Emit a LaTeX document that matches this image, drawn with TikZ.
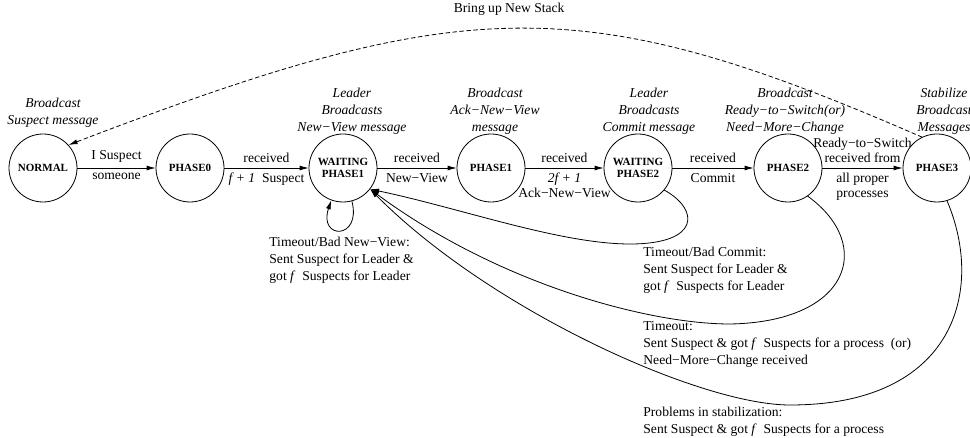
\documentclass[tikz,border=0pt]{standalone}
\usepackage{fontspec}
\setmainfont{Liberation Serif}
\usetikzlibrary{arrows.meta}

\begin{document}
\begin{tikzpicture}[x=1pt, y=-1pt, line cap=round, line join=round, line width=0.8pt,
  >={Latex[length=9pt,width=5pt]},
  state/.style={draw, circle, minimum size=68pt, inner sep=0pt, align=center,
    font=\fontsize{11}{12.5}\selectfont\bfseries},
  note/.style={align=center, inner sep=0pt, font=\fontsize{13.6}{17}\selectfont\itshape},
  cond/.style={align=left, inner sep=0pt, anchor=north west,
    font=\fontsize{13.6}{17}\selectfont},
  lbl/.style={align=center, inner sep=5pt, font=\fontsize{13.6}{15}\selectfont},
  arr/.style={->}]

\useasboundingbox (0,0) rectangle (970,438);

% 状态
\node[state] (normal) at (43,168) {NORMAL};
\node[state] (phase0) at (190,168) {PHASE0};
\node[state] (wait1) at (343,168) {WAITING\\PHASE1};
\node[state] (phase1) at (491,168) {PHASE1};
\node[state] (wait2) at (638,168) {WAITING\\PHASE2};
\node[state] (phase2) at (788,168) {PHASE2};
\node[state] (phase3) at (937,168) {PHASE3};

% 每个状态上方的动作
\node[note] (nnormal) at (53,113) {Broadcast\\Suspect message};
\node[note] (nwait1) at (352,111) {Leader\\Broadcasts\\New−View message};
\node[note] (nphase1) at (495,111) {Broadcast\\Ack−New−View\\message};
\node[note] (nwait2) at (649,111) {Leader\\Broadcasts\\Commit message};
\node[note] (nphase2) at (785,111) {Broadcast\\Ready−to−Switch(or)\\Need−More−Change};
\node[note] (nphase3) at (944,111) {Stabilize\\Broadcast\\Messages};

% 主线转移
\draw[arr] (normal) -- node[lbl, above]{I Suspect} node[lbl, below]{someone} (phase0);
\draw[arr] (phase0) -- node[lbl, above]{received}
  node[lbl, below]{\textit{f + 1}\ \ Suspect} (wait1);
\draw[arr] (wait1) -- node[lbl, above]{received} node[lbl, below]{New−View} (phase1);
\draw[arr] (phase1) -- node[lbl, above]{received}
  node[lbl, below]{\textit{2f + 1}\\Ack−New−View} (wait2);
\draw[arr] (wait2) -- node[lbl, above]{received} node[lbl, below]{Commit} (phase2);
\draw[arr] (phase2) -- node[lbl, above]{Ready−to−Switch\\received from}
  node[lbl, below]{all proper\\processes} (phase3);

% 新栈回到 NORMAL
\draw[arr, dash pattern=on 4pt off 3pt] (phase3.116) .. controls (582,-11) and (465,-7) ..
  node[lbl, above=8pt, pos=0.51]{Bring up New Stack} (normal.42);

% 自环
\draw[arr] (wait1.-75) .. controls (362,240) and (318,240) .. (wait1.-110);

% 失败后回到 WAITING PHASE1
\draw[arr] (wait2.-40) .. controls (700,210) and (700,244) .. (630,244)
  .. controls (560,244) and (460,208) .. (wait1.-38);
\draw[arr] (phase2.-55) .. controls (875,245) and (850,322) .. (730,324)
  .. controls (650,324) and (500,285) .. (wait1.-38);
\draw[arr] (phase3.-73) .. controls (985,290) and (955,405) .. (790,405)
  .. controls (700,405) and (490,310) .. (wait1.-38);

% 转移条件
\node[cond] (cwait1) at (269,237) {Timeout/Bad New−View:\\Sent Suspect for Leader \&\\got \textit{f}\ \ Suspects for Leader};
\node[cond] (cwait2) at (643,247) {Timeout/Bad Commit:\\Sent Suspect for Leader \&\\got \textit{f}\ \ Suspects for Leader};
\node[cond] (cphase2) at (643,321) {Timeout:\\Sent Suspect \& got \textit{f}\ \ Suspects for a process\ \ (or)\\Need−More−Change received};
\node[cond] (cphase3) at (643,407) {Problems in stabilization:\\Sent Suspect \& got \textit{f}\ \ Suspects for a process};

\end{tikzpicture}
\end{document}
